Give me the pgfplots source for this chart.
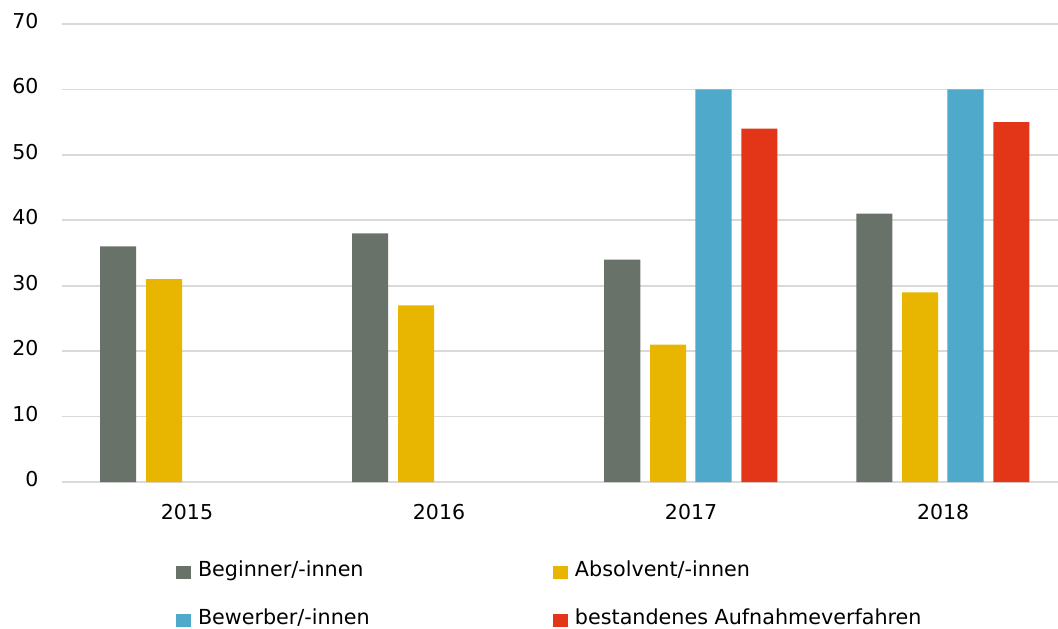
\documentclass[border=0pt]{standalone}
\usepackage{pgfplots}
\pgfplotsset{compat=1.18}
\usepackage{fontspec}
\setmainfont{DejaVu Sans}
\definecolor{cgray}{HTML}{687268}
\definecolor{cyellow}{HTML}{E8B500}
\definecolor{cblue}{HTML}{4FA9CB}
\definecolor{cred}{HTML}{E33517}
\definecolor{gridgray}{HTML}{D9D9D9}
\begin{document}
\begin{tikzpicture}
\useasboundingbox (-62pt,-147pt) rectangle (996pt,482pt);
\begin{axis}[
  at={(0pt,0pt)}, anchor=south west,
  scale only axis, width=996pt, height=458pt,
  xmin=-0.496, xmax=3.456, ymin=0, ymax=70,
  ytick={0,10,...,70},
  xtick={0,1,2,3}, xticklabels={2015,2016,2017,2018},
  axis line style={draw=none},
  major tick length=0pt,
  ymajorgrids,
  grid style={color=gridgray, line width=1.8pt},
  /pgf/number format/assume math mode=true,
  tick label style={font=\fontsize{20.5}{24}\selectfont},
  yticklabel style={xshift=-20pt, yshift=3pt},
  xticklabel style={yshift=-19pt},
  ybar, bar width=0.143,
  legend columns=2,
  legend style={at={(axis description cs:0,0)}, anchor=north west,
    xshift=114pt, yshift=-79pt, draw=none, fill=none,
    inner sep=0pt, outer sep=0pt, column sep=7pt, row sep=28pt,
    font=\fontsize{20.7}{25}\selectfont,
    cells={anchor=base west},
    nodes={inner sep=0pt, text height=15pt, text depth=5pt}},
  legend image code/.code={\fill[#1,draw=none] (0pt,-3.3pt) rectangle (15pt,10pt);},
]
\addplot[fill=cgray, draw=none, bar shift=-0.273] coordinates {(0,36) (1,38) (2,34) (3,41)};
\addplot[fill=cyellow, draw=none, bar shift=-0.091] coordinates {(0,31) (1,27) (2,21) (3,29)};
\addplot[fill=cblue, draw=none, bar shift=0.089] coordinates {(2,60) (3,60)};
\addplot[fill=cred, draw=none, bar shift=0.271] coordinates {(2,54) (3,55)};
\legend{\makebox[348pt][l]{Beginner/-innen}, \makebox[348pt][l]{Absolvent/-innen}, \makebox[348pt][l]{Bewerber/-innen}, \makebox[348pt][l]{bestandenes Aufnahmeverfahren}}
\end{axis}
\end{tikzpicture}
\end{document}
